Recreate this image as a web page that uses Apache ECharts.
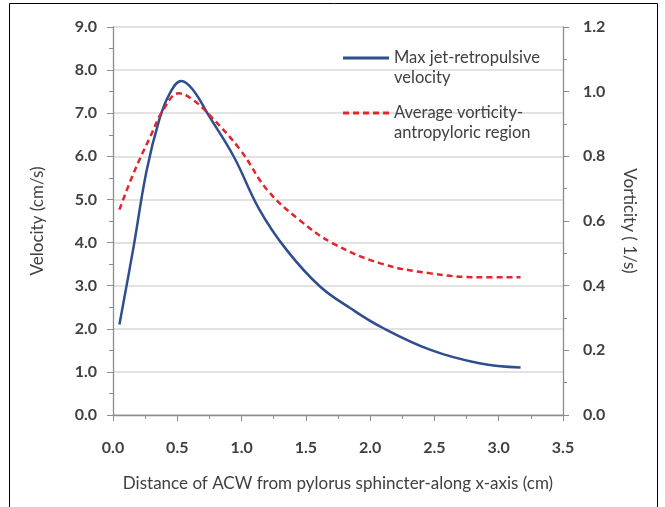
<!DOCTYPE html>
<html><head><meta charset="utf-8">
<script src="https://cdn.jsdelivr.net/npm/echarts@6/dist/echarts.min.js"></script>
<style>html,body{margin:0;padding:0;background:#fff}#c{width:665px;height:507px}</style>
</head><body><div id="c"></div>
<script>
const velX = [0.05, 0.16, 0.26, 0.36, 0.44, 0.53, 0.62, 0.75, 0.94, 1.14, 1.35, 1.61, 1.85, 2.08, 2.47, 2.85, 3.17];
const velocity = [2.1, 3.9, 5.65, 6.85, 7.45, 7.75, 7.55, 6.92, 5.99, 4.76, 3.83, 2.98, 2.47, 2.05, 1.51, 1.2, 1.1];
const vorX = [0.05, 0.16, 0.29, 0.39, 0.51, 0.62, 0.75, 0.99, 1.2, 1.45, 1.71, 2.08, 2.47, 2.85, 3.17];
const vorticity = [0.635, 0.748, 0.861, 0.943, 0.995, 0.975, 0.928, 0.82, 0.696, 0.603, 0.531, 0.469, 0.438, 0.426, 0.426];
const velName = 'Max jet-retropulsive\nvelocity';
const vorName = 'Average vorticity-\nantropyloric region';
const xTitle = 'Distance of ACW from pylorus sphincter-along x-axis (cm)';
const yTitle = 'Velocity (cm/s)';
const y2Title = 'Vorticity ( 1/s)';

const font = 'Lato';
const txt = '#404040';
const axisCol = '#8c8c8c';
const blue = '#2e4e8f';
const red = '#e0262b';
const chart = echarts.init(document.getElementById('c'), null, {renderer: 'canvas'});
const lbl = {fontFamily: font, fontSize: 16, fontWeight: 'bold', color: txt};
chart.setOption({
  animation: false,
  textStyle: {fontFamily: font},
  grid: {left: 113, right: 102, top: 27, bottom: 92},
  graphic: [{type: 'rect', shape: {x: 9.5, y: 3.5, width: 648, height: 520}, style: {fill: 'none', stroke: '#000', lineWidth: 1}, silent: true}],
  legend: {
    orient: 'vertical', left: 338, top: 23, itemGap: -5,
    itemWidth: 46, itemHeight: 3,
    formatter: n => '\n' + n,
    textStyle: {fontFamily: font, fontSize: 16.5, color: txt, lineHeight: 20},
    data: [
      {name: velName, icon: 'rect', itemStyle: {color: blue}},
      {name: vorName, icon: 'path://M0,0h6v3h-6zM10,0h6v3h-6zM20,0h6v3h-6zM30,0h6v3h-6zM40,0h6v3h-6z', itemStyle: {color: red}}
    ]
  },
  xAxis: {
    type: 'value', min: 0, max: 3.5, interval: 0.5,
    name: xTitle, nameLocation: 'middle', nameGap: 60,
    nameTextStyle: {fontFamily: font, fontSize: 17, color: txt},
    axisLine: {lineStyle: {color: axisCol, width: 1.3}},
    axisTick: {show: true, length: 6, lineStyle: {color: axisCol}},
    minorTick: {show: true, splitNumber: 2, length: 4, lineStyle: {color: axisCol}},
    axisLabel: Object.assign({margin: 25, formatter: v => v.toFixed(1)}, lbl),
    splitLine: {show: false}
  },
  yAxis: [{
    type: 'value', min: 0, max: 9, interval: 1,
    name: yTitle, nameLocation: 'middle', nameGap: 67, nameRotate: 90,
    nameTextStyle: {fontFamily: font, fontSize: 17, color: txt},
    axisLine: {show: true, lineStyle: {color: axisCol, width: 1.3}},
    axisTick: {show: true, length: 6, lineStyle: {color: axisCol}},
    minorTick: {show: true, splitNumber: 2, length: 4, lineStyle: {color: axisCol}},
    axisLabel: Object.assign({margin: 16, formatter: v => v.toFixed(1)}, lbl),
    splitLine: {show: true, lineStyle: {color: '#d9d9d9', width: 1.5}}
  }, {
    type: 'value', min: 0, max: 1.2, interval: 0.2, position: 'right',
    name: y2Title, nameLocation: 'middle', nameGap: 58, nameRotate: -90,
    nameTextStyle: {fontFamily: font, fontSize: 17, color: txt},
    axisLine: {show: true, lineStyle: {color: axisCol, width: 1.3}},
    axisTick: {show: true, length: 6, lineStyle: {color: axisCol}},
    minorTick: {show: true, splitNumber: 2, length: 4, lineStyle: {color: axisCol}},
    axisLabel: Object.assign({margin: 20, formatter: v => v.toFixed(1)}, lbl),
    splitLine: {show: false}
  }],
  series: [{
    name: velName, type: 'line', yAxisIndex: 0, smooth: 0.4, symbol: 'none',
    data: velX.map((x, i) => [x, velocity[i]]),
    lineStyle: {color: blue, width: 2.5}, itemStyle: {color: blue}
  }, {
    name: vorName, type: 'line', yAxisIndex: 1, smooth: 0.4, symbol: 'none',
    data: vorX.map((x, i) => [x, vorticity[i]]),
    lineStyle: {color: red, width: 2.5, type: [6, 4]}, itemStyle: {color: red}
  }]
});
</script></body></html>
